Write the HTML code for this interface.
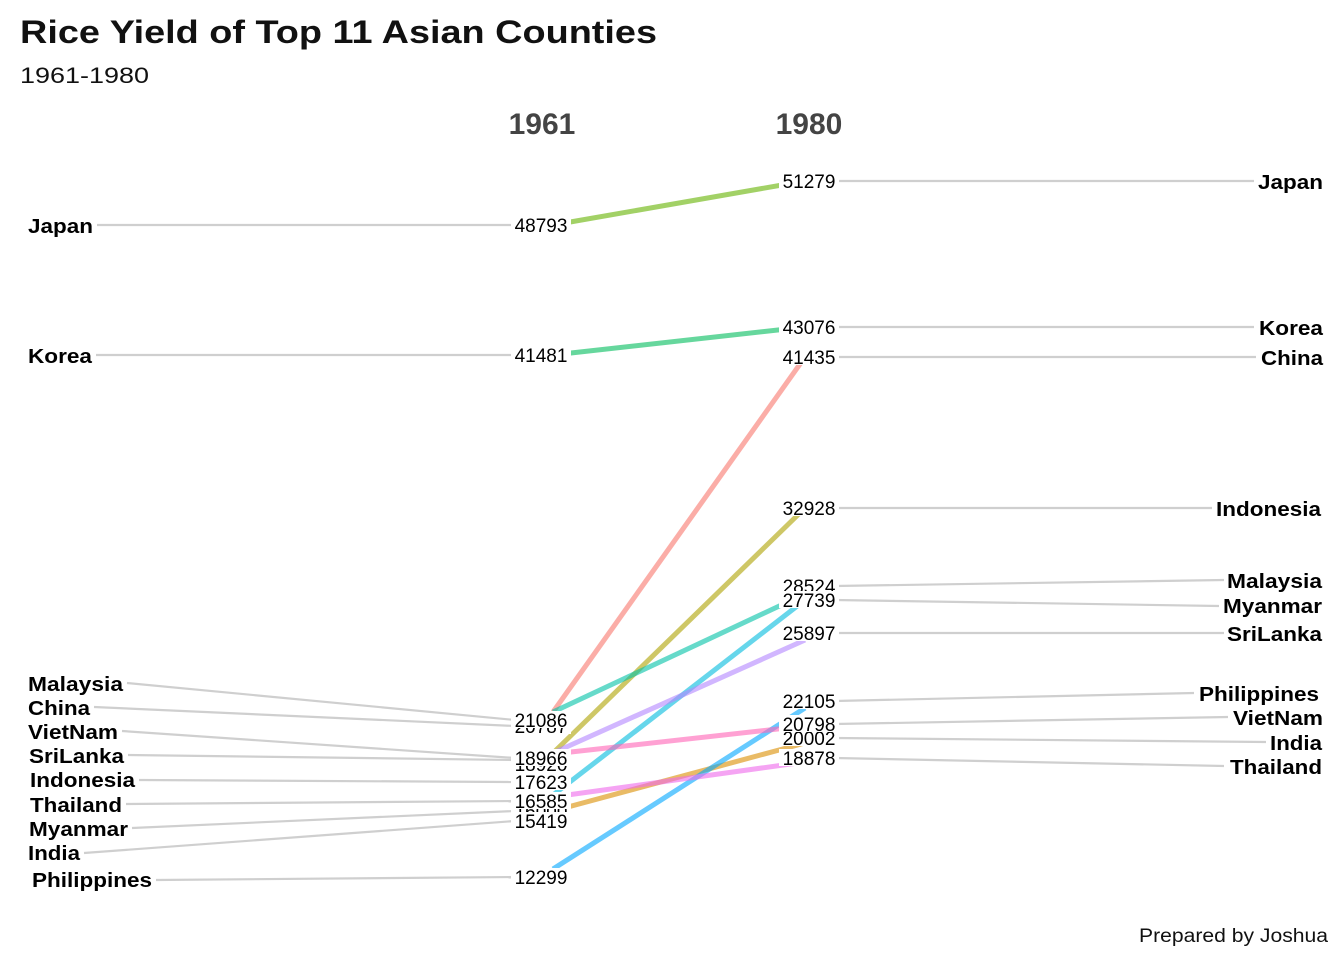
<!DOCTYPE html>
<html><head><meta charset="utf-8"><style>body{margin:0;background:#fff}svg{display:block}</style></head>
<body>
<svg width="1344" height="960" xmlns="http://www.w3.org/2000/svg" font-family="Liberation Sans, Arial, sans-serif">
<rect width="1344" height="960" fill="#fff"/>
<text x="20" y="43" font-size="32" font-weight="bold" fill="#111" textLength="637" lengthAdjust="spacingAndGlyphs">Rice Yield of Top 11 Asian Counties</text>
<text x="20" y="83" font-size="22" fill="#111" textLength="129" lengthAdjust="spacingAndGlyphs">1961-1980</text>
<text x="542" y="134" font-size="30" font-weight="bold" fill="#444" text-anchor="middle">1961</text>
<text x="809" y="134" font-size="30" font-weight="bold" fill="#444" text-anchor="middle">1980</text>
<text x="1328" y="942" font-size="19" fill="#111" text-anchor="end" textLength="189" lengthAdjust="spacingAndGlyphs">Prepared by Joshua</text>
<g stroke="#cfcfcf" stroke-width="2.2" fill="none">
<line x1="97" y1="225" x2="515" y2="225"/>
<line x1="96" y1="355" x2="515" y2="355"/>
<line x1="127" y1="683" x2="515" y2="720"/>
<line x1="94" y1="707" x2="515" y2="726"/>
<line x1="122" y1="731" x2="515" y2="758"/>
<line x1="128" y1="755" x2="515" y2="760"/>
<line x1="139" y1="780" x2="515" y2="782"/>
<line x1="126" y1="804" x2="515" y2="801"/>
<line x1="132" y1="828" x2="515" y2="811"/>
<line x1="84" y1="853" x2="515" y2="821"/>
<line x1="156" y1="880" x2="515" y2="877"/>
<line x1="835" y1="181" x2="1254" y2="181"/>
<line x1="835" y1="327" x2="1254" y2="327"/>
<line x1="835" y1="357" x2="1256" y2="357"/>
<line x1="835" y1="508" x2="1212" y2="508"/>
<line x1="835" y1="586" x2="1224" y2="580"/>
<line x1="835" y1="600" x2="1219" y2="606"/>
<line x1="835" y1="633" x2="1224" y2="633"/>
<line x1="835" y1="701" x2="1194" y2="693"/>
<line x1="835" y1="724" x2="1228" y2="717"/>
<line x1="835" y1="738" x2="1266" y2="742"/>
<line x1="835" y1="758" x2="1224" y2="766"/>
</g>
<g stroke-width="5" stroke-opacity="0.6" fill="none">
<line x1="553" y1="712" x2="805" y2="357" stroke="#F8766D"/>
<line x1="553" y1="811" x2="805" y2="743" stroke="#DB8E00"/>
<line x1="553" y1="753" x2="805" y2="508" stroke="#AEA200"/>
<line x1="553" y1="225" x2="805" y2="181" stroke="#64B200"/>
<line x1="553" y1="355" x2="805" y2="327" stroke="#00BD5C"/>
<line x1="553" y1="712" x2="805" y2="594" stroke="#00C1A7"/>
<line x1="553" y1="795" x2="805" y2="600" stroke="#00BADE"/>
<line x1="553" y1="869" x2="805" y2="708" stroke="#00A6FF"/>
<line x1="553" y1="753" x2="805" y2="640" stroke="#B385FF"/>
<line x1="553" y1="797" x2="805" y2="762" stroke="#EF67EB"/>
<line x1="553" y1="754" x2="805" y2="726" stroke="#FF63B6"/>
</g>
<g font-size="19" fill="#000" text-anchor="middle">
<rect x="511" y="216" width="60" height="17" fill="#fff"/><text x="541" y="232">48793</text>
<rect x="511" y="346" width="60" height="17" fill="#fff"/><text x="541" y="362">41481</text>
<rect x="511" y="717" width="60" height="17" fill="#fff"/><text x="541" y="733">20787</text>
<rect x="511" y="711" width="60" height="17" fill="#fff"/><text x="541" y="727">21086</text>
<rect x="511" y="755" width="60" height="17" fill="#fff"/><text x="541" y="771">18920</text>
<rect x="511" y="749" width="60" height="17" fill="#fff"/><text x="541" y="765">18966</text>
<rect x="511" y="773" width="60" height="17" fill="#fff"/><text x="541" y="789">17623</text>
<rect x="511" y="802" width="60" height="17" fill="#fff"/><text x="541" y="818">16000</text>
<rect x="511" y="812" width="60" height="17" fill="#fff"/><text x="541" y="828">15419</text>
<rect x="511" y="792" width="60" height="17" fill="#fff"/><text x="541" y="808">16585</text>
<rect x="511" y="868" width="60" height="17" fill="#fff"/><text x="541" y="884">12299</text>
<rect x="779" y="172" width="60" height="17" fill="#fff"/><text x="809" y="188">51279</text>
<rect x="779" y="318" width="60" height="17" fill="#fff"/><text x="809" y="334">43076</text>
<rect x="779" y="348" width="60" height="17" fill="#fff"/><text x="809" y="364">41435</text>
<rect x="779" y="499" width="60" height="17" fill="#fff"/><text x="809" y="515">32928</text>
<rect x="779" y="577" width="60" height="17" fill="#fff"/><text x="809" y="593">28524</text>
<rect x="779" y="591" width="60" height="17" fill="#fff"/><text x="809" y="607">27739</text>
<rect x="779" y="624" width="60" height="17" fill="#fff"/><text x="809" y="640">25897</text>
<rect x="779" y="692" width="60" height="17" fill="#fff"/><text x="809" y="708">22105</text>
<rect x="779" y="729" width="60" height="17" fill="#fff"/><text x="809" y="745">20002</text>
<rect x="779" y="715" width="60" height="17" fill="#fff"/><text x="809" y="731">20798</text>
<rect x="779" y="749" width="60" height="17" fill="#fff"/><text x="809" y="765">18878</text>
</g>
<g font-size="20" font-weight="bold" fill="#000">
<text x="28" y="233" textLength="65" lengthAdjust="spacingAndGlyphs">Japan</text>
<text x="28" y="363" textLength="64" lengthAdjust="spacingAndGlyphs">Korea</text>
<text x="28" y="691" textLength="95" lengthAdjust="spacingAndGlyphs">Malaysia</text>
<text x="28" y="715" textLength="62" lengthAdjust="spacingAndGlyphs">China</text>
<text x="28" y="739" textLength="90" lengthAdjust="spacingAndGlyphs">VietNam</text>
<text x="29" y="763" textLength="95" lengthAdjust="spacingAndGlyphs">SriLanka</text>
<text x="30" y="787" textLength="105" lengthAdjust="spacingAndGlyphs">Indonesia</text>
<text x="30" y="812" textLength="92" lengthAdjust="spacingAndGlyphs">Thailand</text>
<text x="29" y="836" textLength="99" lengthAdjust="spacingAndGlyphs">Myanmar</text>
<text x="28" y="860" textLength="52" lengthAdjust="spacingAndGlyphs">India</text>
<text x="32" y="887" textLength="120" lengthAdjust="spacingAndGlyphs">Philippines</text>
</g>
<g font-size="20" font-weight="bold" fill="#000" text-anchor="end">
<text x="1323" y="189" textLength="65" lengthAdjust="spacingAndGlyphs">Japan</text>
<text x="1323" y="335" textLength="64" lengthAdjust="spacingAndGlyphs">Korea</text>
<text x="1323" y="365" textLength="62" lengthAdjust="spacingAndGlyphs">China</text>
<text x="1321" y="516" textLength="105" lengthAdjust="spacingAndGlyphs">Indonesia</text>
<text x="1322" y="588" textLength="95" lengthAdjust="spacingAndGlyphs">Malaysia</text>
<text x="1322" y="613" textLength="99" lengthAdjust="spacingAndGlyphs">Myanmar</text>
<text x="1322" y="641" textLength="95" lengthAdjust="spacingAndGlyphs">SriLanka</text>
<text x="1319" y="701" textLength="120" lengthAdjust="spacingAndGlyphs">Philippines</text>
<text x="1323" y="725" textLength="90" lengthAdjust="spacingAndGlyphs">VietNam</text>
<text x="1322" y="750" textLength="52" lengthAdjust="spacingAndGlyphs">India</text>
<text x="1322" y="774" textLength="92" lengthAdjust="spacingAndGlyphs">Thailand</text>
</g>
</svg>
</body></html>
